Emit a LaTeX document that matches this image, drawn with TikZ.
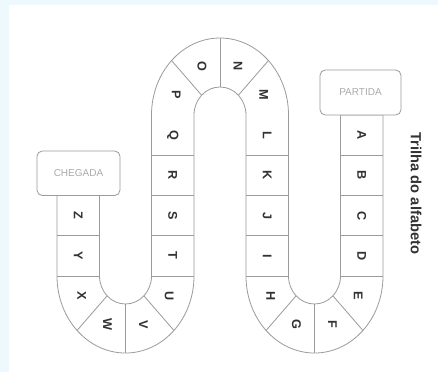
\documentclass[tikz,border=0pt]{standalone}
\usepackage{fontspec}
\setmainfont{Liberation Sans}
\usetikzlibrary{positioning}
\definecolor{paleblue}{RGB}{238,249,254}
\definecolor{trackgray}{RGB}{155,155,155}
\definecolor{lettergray}{RGB}{50,50,50}
\definecolor{labelgray}{RGB}{170,170,170}
\tikzset{
  track/.style={draw=trackgray,line width=0.6pt},
  let/.style={font=\fontsize{9.5}{12}\selectfont\bfseries,text=lettergray,rotate=-90,inner sep=0pt},
  endbox/.style={rectangle,draw=trackgray,fill=white,rounded corners=4pt,line width=0.6pt,
    font=\fontsize{7.5}{9}\selectfont,text=labelgray},
  title/.style={font=\fontsize{11}{13}\selectfont\bfseries,text=lettergray,rotate=-90}
}
\begin{document}
\begin{tikzpicture}[x=0.75pt,y=-0.75pt]
  \useasboundingbox (0,0) rectangle (438,372);
  \fill[paleblue] (0,0) rectangle (438,372);
  \fill[white] (9,5) rectangle (438,372);
  % outline of the track
  \draw[track] (340.5,115) -- (340.5,276) arc[start angle=0,end angle=180,x radius=26,y radius=28]
    -- (288.5,115) arc[start angle=0,end angle=-180,x radius=68.5,y radius=77]
    -- (151.5,276) arc[start angle=0,end angle=180,x radius=26,y radius=28]
    -- (99.5,195.5) -- (57,195.5) -- (57,276) arc[start angle=180,end angle=0,x radius=68.5,y radius=77]
    -- (194,115) arc[start angle=180,end angle=360,x radius=26,y radius=28]
    -- (246,276) arc[start angle=180,end angle=0,x radius=68.5,y radius=77]
    -- (383,115) -- cycle;
  % cells
  \foreach \xa/\xb in {340.5/383,246/288.5,151.5/194}
    \foreach \y in {155.25,195.5,235.75,276}
      \draw[track] (\xa,\y) -- (\xb,\y);
  \foreach \y in {235.75,276}
    \draw[track] (57,\y) -- (99.5,\y);
  \foreach \cx in {314.5,125.5}
    \foreach \a in {45,90,135}
      \draw[track] ([shift={(\cx,276)}]\a:26 and 28) -- ([shift={(\cx,276)}]\a:68.5 and 77);
  \foreach \a in {225,270,315}
    \draw[track] ([shift={(220,115)}]\a:26 and 28) -- ([shift={(220,115)}]\a:68.5 and 77);
  % letters
  \foreach \l [count=\i] in {A,B,C,D}
    \node[let] (\l) at (361.75,{94.85+40.25*\i}) {\l};
  \foreach \l [count=\i] in {E,F,G,H}
    \node[let] (\l) at ([shift={(314.5,276)}]{45*\i-22.5}:47.25 and 52.5) {\l};
  \foreach \l [count=\i] in {I,J,K,L}
    \node[let] (\l) at (267.25,{296.15-40.25*\i}) {\l};
  \foreach \l [count=\i] in {M,N,O,P}
    \node[let] (\l) at ([shift={(220,115)}]{22.5-45*\i}:47.25 and 52.5) {\l};
  \foreach \l [count=\i] in {Q,R,S,T}
    \node[let] (\l) at (172.75,{94.85+40.25*\i}) {\l};
  \foreach \l [count=\i] in {U,V,W,X}
    \node[let] (\l) at ([shift={(125.5,276)}]{45*\i-22.5}:47.25 and 52.5) {\l};
  \foreach \l [count=\i] in {Y,Z}
    \node[let] (\l) at (78.25,{296.15-40.25*\i}) {\l};
  % start, finish and title
  \node[endbox,minimum width=60.75pt,minimum height=33.75pt] (partida) at (360.5,92.5) {PARTIDA};
  \node[endbox,minimum width=62.25pt,minimum height=33.4pt] (chegada) at (78.5,173.25) {CHEGADA};
  \node[title] (titulo) at (416,193.5) {Trilha do alfabeto};
\end{tikzpicture}
\end{document}
